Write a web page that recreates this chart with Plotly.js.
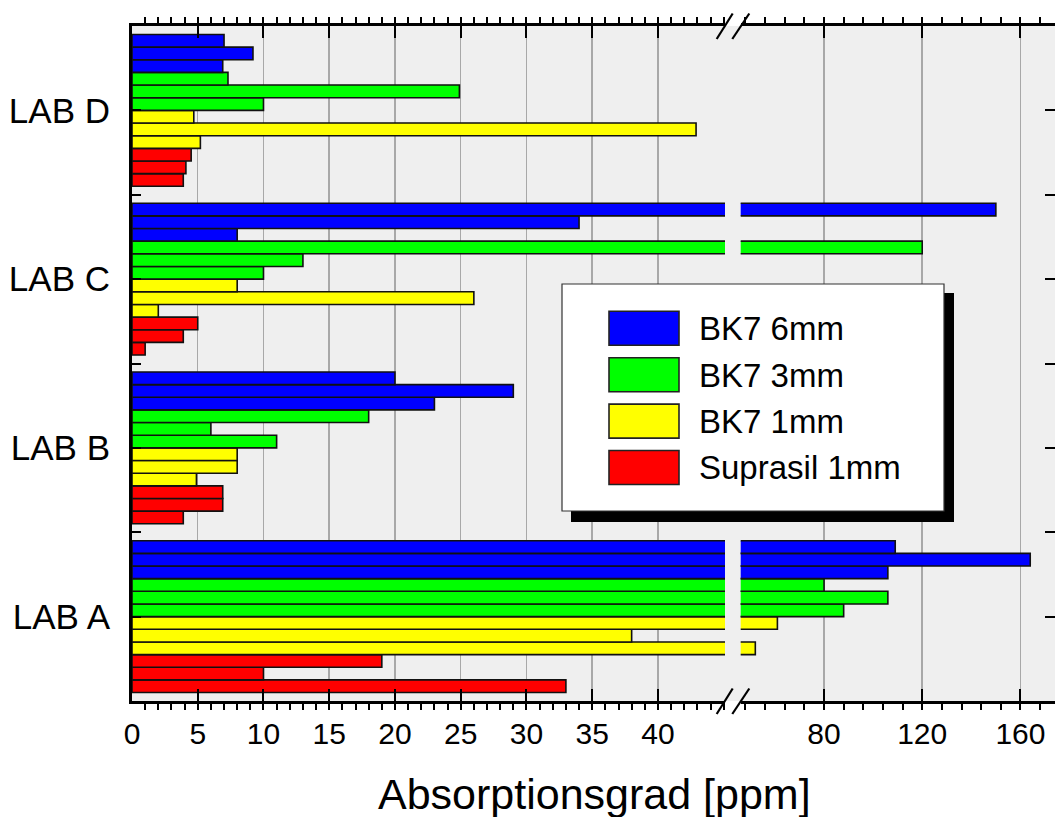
<!DOCTYPE html>
<html>
<head>
<meta charset="utf-8">
<script src="https://cdn.plot.ly/plotly-3.0.1.min.js"></script>
<style>
  html, body { margin: 0; padding: 0; overflow: hidden; background: #fff; }
  #chart { width: 1058px; height: 817px; }
</style>
</head>
<body>
<div id="chart"></div>
<script>
// ---------------- data ----------------
const categories = ['LAB A', 'LAB B', 'LAB C', 'LAB D'];
const seriesNames = ['BK7 6mm', 'BK7 3mm', 'BK7 1mm', 'Suprasil 1mm'];
const seriesColors = ['#0000ff', '#00ff00', '#ffff00', '#ff0000'];
// each series: three measurements (top bar to bottom bar in a group), values for LAB A..LAB D
const bk7_6mm_m1 = [109, 20, 150, 7.0];
const bk7_6mm_m2 = [164, 29, 34, 9.2];
const bk7_6mm_m3 = [106, 23, 8, 6.9];
const bk7_3mm_m1 = [80, 18, 120, 7.3];
const bk7_3mm_m2 = [106, 6, 13, 24.9];
const bk7_3mm_m3 = [88, 11, 10, 10];
const bk7_1mm_m1 = [61, 8, 8, 4.7];
const bk7_1mm_m2 = [38, 8, 26, 42.9];
const bk7_1mm_m3 = [52, 4.9, 2, 5.2];
const suprasil_1mm_m1 = [19, 6.9, 5, 4.5];
const suprasil_1mm_m2 = [10, 6.9, 3.9, 4.1];
const suprasil_1mm_m3 = [33, 3.9, 1, 3.9];
const leftTickVals = [0, 5, 10, 15, 20, 25, 30, 35, 40];
const rightTickVals = [80, 120, 160];
const xTitle = 'Absorptionsgrad [ppm]';

const seriesData = [
  [bk7_6mm_m1, bk7_6mm_m2, bk7_6mm_m3],
  [bk7_3mm_m1, bk7_3mm_m2, bk7_3mm_m3],
  [bk7_1mm_m1, bk7_1mm_m2, bk7_1mm_m3],
  [suprasil_1mm_m1, suprasil_1mm_m2, suprasil_1mm_m3]
];

// ---------------- geometry ----------------
const W = 1058, H = 817;
const ML = 132, MR = 2, MT = 26, MB = 116;
const PW = W - ML - MR, PH = H - MT - MB;
const px2x = p => (p - ML) / PW;
const px2y = p => (H - MB - p) / PH;

const FONT = 'Liberation Sans, Arial, Helvetica, sans-serif';
const yPos = categories.map((c, i) => i);

// ---------------- traces ----------------
// grouped horizontal bars: first trace lowest, so add from bottom (Suprasil m3) to top (BK7 6mm m1)
const traces = [];
for (let s = seriesData.length - 1; s >= 0; s--) {
  for (let m = 2; m >= 0; m--) {
    [['x', 'y'], ['x2', 'y2']].forEach(ax => {
      traces.push({
        type: 'bar',
        orientation: 'h',
        name: seriesNames[s],
        y: yPos,
        x: seriesData[s][m],
        xaxis: ax[0],
        yaxis: ax[1],
        marker: { color: seriesColors[s], line: { color: '#111', width: 1.6 } },
        showlegend: false,
        hoverinfo: 'x+name'
      });
    });
  }
}

// ---------------- layout ----------------
const leftEnd = px2x(725);
const rightStart = px2x(740.7);

const shapes = [];
// continuous grey background across the axis break
shapes.push({ type: 'rect', xref: 'paper', yref: 'paper', x0: 0, x1: 1, y0: 0, y1: 1,
  fillcolor: '#efefef', line: { width: 0 }, layer: 'below' });
// break marks (top and bottom)
[26, 701].forEach(yc => {
  shapes.push({ type: 'line', xref: 'paper', yref: 'paper',
    x0: px2x(716.7), y0: px2y(yc + 13), x1: px2x(732.7), y1: px2y(yc - 12.5),
    line: { color: '#000', width: 2.2 }, layer: 'above' });
  shapes.push({ type: 'line', xref: 'paper', yref: 'paper',
    x0: px2x(732.3), y0: px2y(yc + 13), x1: px2x(749.3), y1: px2y(yc - 12.5),
    line: { color: '#000', width: 2.2 }, layer: 'above' });
});
// legend: shadow, box, swatches
shapes.push({ type: 'rect', xref: 'paper', yref: 'paper',
  x0: px2x(571), x1: px2x(954), y0: px2y(522), y1: px2y(293),
  fillcolor: '#000', line: { width: 0 }, layer: 'above' });
shapes.push({ type: 'rect', xref: 'paper', yref: 'paper',
  x0: px2x(562), x1: px2x(944), y0: px2y(511), y1: px2y(284),
  fillcolor: '#fff', line: { color: '#333', width: 1.2 }, layer: 'above' });
const annotations = [];
seriesNames.forEach((nm, i) => {
  const top = 311.3 + 46.4 * i;
  shapes.push({ type: 'rect', xref: 'paper', yref: 'paper',
    x0: px2x(609), x1: px2x(679), y0: px2y(top + 34), y1: px2y(top),
    fillcolor: seriesColors[i], line: { color: '#222', width: 1.6 }, layer: 'above' });
  annotations.push({ xref: 'paper', yref: 'paper', x: px2x(697), y: px2y(top + 17.5),
    xanchor: 'left', yanchor: 'middle', text: nm, showarrow: false,
    font: { family: FONT, size: 33, color: '#000' } });
});
// axis title centred under the whole (broken) axis
annotations.push({ xref: 'paper', yref: 'paper', x: px2x(594.5), y: px2y(794),
  xanchor: 'center', yanchor: 'middle', text: xTitle, showarrow: false,
  font: { family: FONT, size: 43, color: '#000' } });

const yTickVals = [], yTickText = [];
for (let v = -0.5; v <= categories.length - 0.5 + 1e-9; v += 0.5) {
  yTickVals.push(v);
  yTickText.push(Number.isInteger(v) ? categories[v] : '');
}

const xCommon = {
  showline: true, linecolor: '#000', linewidth: 3, mirror: 'ticks',
  ticks: 'inside', ticklen: 12, tickwidth: 2, tickcolor: '#000',
  showgrid: true, gridcolor: '#a8a8a8', gridwidth: 1.5, zeroline: false,
  tickfont: { family: FONT, size: 30, color: '#000' },
  ticklabelstandoff: 4, fixedrange: true
};

const layout = {
  width: W, height: H,
  margin: { l: ML, r: MR, t: MT, b: MB, pad: 0 },
  paper_bgcolor: '#fff', plot_bgcolor: '#efefef',
  font: { family: FONT, color: '#000' },
  barmode: 'group', bargap: 0.1, bargroupgap: 0,
  showlegend: false,
  xaxis: Object.assign({}, xCommon, {
    domain: [0, leftEnd], range: [0, 45.1], anchor: 'y',
    tickmode: 'array', tickvals: leftTickVals,
    minor: { tickmode: 'linear', tick0: 0, dtick: 1, ticklen: 6, tickwidth: 2, tickcolor: '#000', showgrid: false }
  }),
  xaxis2: Object.assign({}, xCommon, {
    domain: [rightStart, 1], range: [46.05, 174.5], anchor: 'y2',
    tickmode: 'array', tickvals: rightTickVals,
    minor: { tickmode: 'linear', tick0: 0, dtick: 8, ticklen: 6, tickwidth: 2, tickcolor: '#000', showgrid: false }
  }),
  yaxis: {
    domain: [0, 1], range: [-0.5, categories.length - 0.5], anchor: 'x',
    showline: true, linecolor: '#000', linewidth: 3,
    ticks: 'inside', ticklen: 9, tickwidth: 2, tickcolor: '#000',
    tickmode: 'array', tickvals: yTickVals, ticktext: yTickText,
    tickfont: { family: FONT, size: 35, color: '#000' },
    ticklabelstandoff: 12,
    showgrid: false, zeroline: false, fixedrange: true
  },
  yaxis2: {
    domain: [0, 1], range: [-0.5, categories.length - 0.5], anchor: 'x2', side: 'right',
    showline: true, linecolor: '#000', linewidth: 3,
    ticks: 'inside', ticklen: 11, tickwidth: 2, tickcolor: '#000',
    tickmode: 'array', tickvals: yTickVals, showticklabels: false,
    showgrid: false, zeroline: false, fixedrange: true
  },
  shapes: shapes,
  annotations: annotations
};

Plotly.newPlot('chart', traces, layout, { staticPlot: true, displayModeBar: false });
</script>
</body>
</html>
